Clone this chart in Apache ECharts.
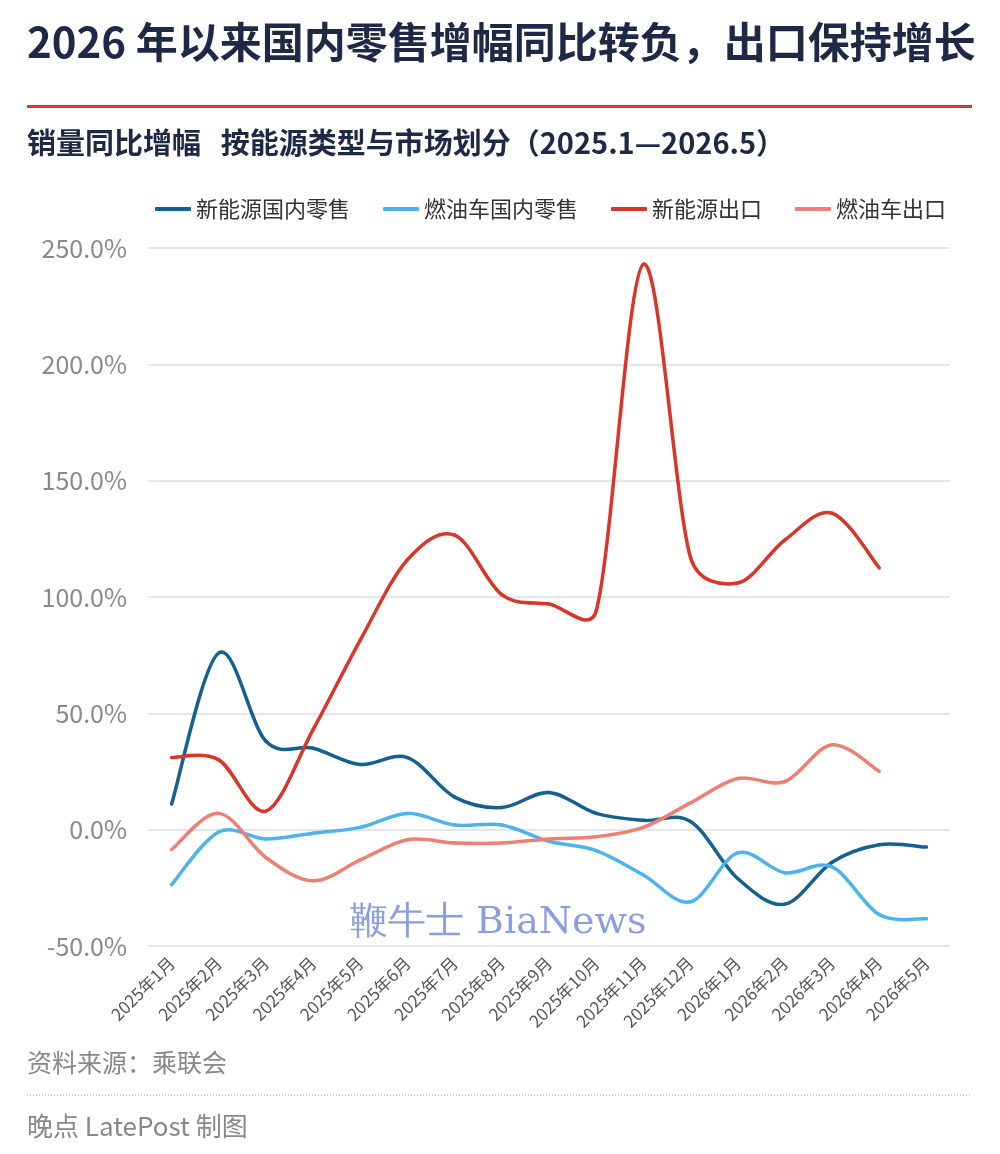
<!DOCTYPE html>
<html>
<head>
<meta charset="utf-8">
<script src="https://cdn.jsdelivr.net/npm/echarts@6/dist/echarts.min.js"></script>
<style>
html,body{margin:0;padding:0;background:#fff;}
#chart{width:1000px;height:1154px;}
</style>
</head>
<body>
<div id="chart"></div>
<script>
const categories = ['2025年1月','2025年2月','2025年3月','2025年4月','2025年5月','2025年6月','2025年7月','2025年8月','2025年9月','2025年10月','2025年11月','2025年12月','2026年1月','2026年2月','2026年3月','2026年4月','2026年5月'];
const nevDomestic = [11, 76, 38, 35, 28, 31, 14, 9.5, 16, 7, 4, 3.5, -21, -32, -14, -6.5, -7.5];
const iceDomestic = [-23.6, -1, -4, -1.5, 1, 7, 2, 2, -5, -9, -19.5, -31, -10, -18.5, -16, -36.5, -38.3];
const nevExport = [31, 30, 8, 43, 81.5, 116, 126.6, 101, 97, 94, 243, 117, 106, 124.5, 136, 112.5, null];
const iceExport = [-8.6, 7, -12, -22, -13, -4.3, -5.7, -5.7, -4, -3, 1, 11.5, 22, 20.7, 36.5, 25, null];
const seriesNames = ['新能源国内零售','燃油车国内零售','新能源出口','燃油车出口'];
const yTicks = [-50, 0, 50, 100, 150, 200, 250];

const colors = ['#15608f', '#4db3ec', '#d9362a', '#ee7f74'];
const FONT = '"Noto Sans CJK SC","Noto Sans",sans-serif';

const chart = echarts.init(document.getElementById('chart'), null, {renderer: 'canvas'});
const data = [nevDomestic, iceDomestic, nevExport, iceExport];

// Spreadsheet-style smoothed line, drawn segment by segment via the axis scales
function makeRenderer(values, color) {
  return function (params, api) {
    const i = api.value(0);
    const n = values.length;
    if (values[i] == null || i + 1 >= n || values[i + 1] == null) return null;
    const pt = k => api.coord([k, values[k]]);
    const p1 = pt(i), p2 = pt(i + 1);
    const p0 = (i - 1 >= 0 && values[i - 1] != null) ? pt(i - 1) : p1;
    const p3 = (i + 2 < n && values[i + 2] != null) ? pt(i + 2) : p2;
    const dist = (a, b) => Math.hypot(a[0] - b[0], a[1] - b[1]);
    const d02 = dist(p0, p2), d12 = dist(p1, p2), d13 = dist(p1, p3);
    const f1 = (d02 / 6 < d12 / 2 || d02 === 0) ? 1 / 6 : d12 / (2 * d02);
    const f2 = (d13 / 6 < d12 / 2 || d13 === 0) ? 1 / 6 : d12 / (2 * d13);
    return {
      type: 'bezierCurve',
      shape: {
        x1: p1[0], y1: p1[1], x2: p2[0], y2: p2[1],
        cpx1: p1[0] + (p2[0] - p0[0]) * f1, cpy1: p1[1] + (p2[1] - p0[1]) * f1,
        cpx2: p2[0] - (p3[0] - p1[0]) * f2, cpy2: p2[1] - (p3[1] - p1[1]) * f2
      },
      style: {stroke: color, lineWidth: 3.5, fill: null, lineCap: 'round'}
    };
  };
}

chart.setOption({
  backgroundColor: '#fff',
  color: colors,
  textStyle: {fontFamily: FONT},
  graphic: [
    {type: 'text', left: 27, top: 21, style: {text: '2026 年以来国内零售增幅同比转负，出口保持增长', font: 'bold 42px ' + FONT, fill: '#1e2a45'}},
    {type: 'rect', shape: {x: 27, y: 105, width: 945, height: 3}, style: {fill: '#d23a2f'}},
    {type: 'text', left: 27, top: 128, style: {text: '销量同比增幅   按能源类型与市场划分（2025.1—2026.5）', font: 'bold 29px ' + FONT, fill: '#1e2a45'}},
    {type: 'text', left: 350, top: 904, z: 0, style: {text: '鞭牛士 BiaNews', font: '38px "DejaVu Serif","Liberation Serif",serif', fill: 'rgba(110,135,215,0.8)'}},
    {type: 'text', left: 27, top: 1050, style: {text: '资料来源：乘联会', font: '25px ' + FONT, fill: '#888'}},
    {type: 'line', shape: {x1: 27, y1: 1095, x2: 972, y2: 1095}, style: {stroke: '#aaa', lineWidth: 1, lineDash: [1, 2]}},
    {type: 'text', left: 27, top: 1113, style: {text: '晚点 LatePost 制图', font: '26px ' + FONT, fill: '#888'}}
  ],
  legend: {
    data: seriesNames,
    top: 198,
    left: 155,
    padding: 0,
    icon: 'roundRect',
    itemWidth: 36,
    itemHeight: 4,
    itemGap: 33,
    textStyle: {fontSize: 22, color: '#333', fontFamily: FONT}
  },
  grid: {left: 148, right: 50, top: 248, bottom: 208, containLabel: false},
  xAxis: {
    type: 'category',
    data: categories,
    boundaryGap: true,
    axisLine: {show: false},
    axisTick: {show: false},
    axisLabel: {rotate: 45, fontSize: 17, color: '#555', margin: 14, interval: 0, fontFamily: FONT}
  },
  yAxis: {
    type: 'value',
    min: yTicks[0],
    max: yTicks[yTicks.length - 1],
    interval: 50,
    axisLine: {show: false},
    axisTick: {show: false},
    splitLine: {lineStyle: {color: '#dcdde3', width: 1.5}},
    axisLabel: {fontSize: 25, color: '#8a8a8a', margin: 21, fontFamily: FONT, formatter: v => v.toFixed(1) + '%'}
  },
  series: seriesNames.map((n, i) => ({
    name: n,
    type: 'custom',
    itemStyle: {color: colors[i]},
    encode: {x: 0, y: 1},
    data: data[i].map((v, k) => [k, v]),
    renderItem: makeRenderer(data[i], colors[i]),
    z: 3
  }))
});
</script>
</body>
</html>
